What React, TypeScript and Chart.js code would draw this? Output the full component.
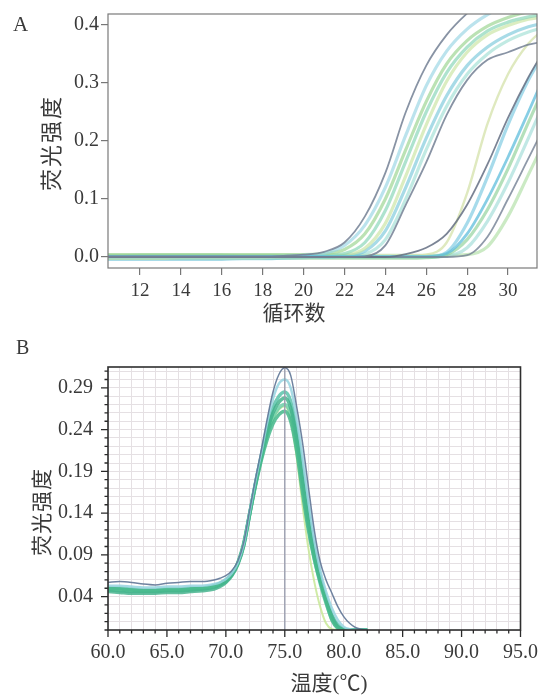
import React, { useEffect, useRef } from "react";
import { Chart, registerables } from "chart.js";

Chart.register(...registerables);

// ---------- Panel A: amplification curves ----------
const cycles = [10, 11, 12, 13, 14, 15, 16, 17, 18, 19, 20, 21, 22, 23, 24, 25, 26, 27, 28, 29, 30, 31, 32];
const ampXTicks = [12, 14, 16, 18, 20, 22, 24, 26, 28, 30];
const ampYTicks = [0, 0.1, 0.2, 0.3, 0.4];

const ampE1 = [0.001, 0.001, 0.001, 0.001, 0.001, 0.001, 0.001, 0.001, 0.001, 0.002, 0.004, 0.009, 0.025, 0.07, 0.145, 0.25, 0.33, 0.383, 0.42, 0.448, 0.468, 0.48, 0.49];
const ampE2 = [0, 0, 0, 0, 0, 0, 0, 0, 0, 0.001, 0.003, 0.006, 0.02, 0.055, 0.12, 0.21, 0.295, 0.355, 0.393, 0.418, 0.435, 0.447, 0.455];
const ampE3 = [0.004, 0.004, 0.004, 0.004, 0.004, 0.004, 0.004, 0.004, 0.004, 0.004, 0.004, 0.006, 0.013, 0.04, 0.1, 0.185, 0.268, 0.333, 0.373, 0.398, 0.413, 0.423, 0.43];
const ampE4 = [0.002, 0.002, 0.003, 0.003, 0.003, 0.003, 0.003, 0.002, 0.002, 0.002, 0.002, 0.003, 0.006, 0.025, 0.08, 0.165, 0.25, 0.318, 0.362, 0.39, 0.405, 0.414, 0.42];
const ampE5 = [-0.002, -0.002, -0.002, -0.002, -0.001, -0.001, -0.001, -0.001, -0.001, 0, 0, 0.001, 0.003, 0.015, 0.058, 0.14, 0.228, 0.303, 0.353, 0.383, 0.399, 0.41, 0.415];
const ampE6 = [-0.004, -0.004, -0.004, -0.004, -0.004, -0.004, -0.004, -0.003, -0.003, -0.002, -0.001, 0, 0.002, 0.01, 0.045, 0.12, 0.205, 0.278, 0.33, 0.362, 0.383, 0.397, 0.405];
const ampE7 = [0, 0, 0, 0, 0, 0, 0, 0, 0, 0, 0, 0, 0.001, 0.005, 0.03, 0.1, 0.185, 0.26, 0.315, 0.35, 0.373, 0.388, 0.398];
const ampE8 = [0, 0, 0, 0, 0, 0, 0, 0, 0, 0, 0, 0, 0, 0.001, 0.02, 0.09, 0.163, 0.245, 0.305, 0.34, 0.353, 0.366, 0.373];
const ampL1 = [0, 0, 0, 0, 0, 0, 0, 0, 0, 0, 0, 0, 0, 0, 0, 0.005, 0.016, 0.04, 0.09, 0.16, 0.24, 0.31, 0.37];
const ampL2 = [0.002, 0.002, 0.002, 0.002, 0.002, 0.002, 0.002, 0.002, 0.002, 0.002, 0.002, 0.002, 0.002, 0.002, 0.002, 0.002, 0.004, 0.025, 0.11, 0.23, 0.315, 0.368, 0.4];
const ampL3 = [0.001, 0.001, 0.001, 0.001, 0.001, 0.001, 0.001, 0.001, 0.001, 0.001, 0.001, 0.001, 0.001, 0.001, 0.001, 0.001, 0.001, 0.006, 0.04, 0.1, 0.172, 0.25, 0.33];
const ampL4 = [-0.002, -0.002, -0.002, -0.002, -0.002, -0.002, -0.002, -0.002, -0.002, -0.002, -0.002, -0.002, -0.002, -0.002, -0.002, -0.002, -0.001, 0.004, 0.03, 0.082, 0.152, 0.232, 0.31];
const ampL5 = [0, 0, 0, 0, 0, 0, 0, 0, 0, 0, 0, 0, 0, 0, 0, 0, 0, 0.002, 0.016, 0.062, 0.128, 0.205, 0.285];
const ampL6 = [0, 0, 0, 0, 0, 0, 0, 0, 0, 0, 0, 0, 0, 0, 0, 0, 0, 0, 0.003, 0.035, 0.1, 0.17, 0.24];
const ampL7 = [0.003, 0.003, 0.003, 0.003, 0.003, 0.003, 0.003, 0.003, 0.003, 0.003, 0.003, 0.003, 0.003, 0.003, 0.003, 0.003, 0.003, 0.003, 0.004, 0.018, 0.07, 0.142, 0.215];
const ampL8 = [0, 0, 0, 0, 0, 0, 0, 0, 0, 0, 0, 0, 0, 0, 0, 0, 0, 0.008, 0.058, 0.138, 0.228, 0.305, 0.365];

const ampSeries = [
  { values: ampE1, color: "rgba(115,128,148,0.85)", width: 1.8 },
  { values: ampE8, color: "rgba(115,128,148,0.85)", width: 1.8 },
  { values: ampL1, color: "rgba(100,110,130,0.85)", width: 1.8 },
  { values: ampL6, color: "rgba(115,128,148,0.8)", width: 1.8 },
  { values: ampL3, color: "rgba(95,190,220,0.75)", width: 2.8 },
  { values: ampE2, color: "rgba(150,212,228,0.65)", width: 3.2 },
  { values: ampE3, color: "rgba(150,210,140,0.65)", width: 3.2 },
  { values: ampE4, color: "rgba(130,212,180,0.65)", width: 3.2 },
  { values: ampE5, color: "rgba(200,228,160,0.65)", width: 3.2 },
  { values: ampE6, color: "rgba(110,195,215,0.6)", width: 3.2 },
  { values: ampE7, color: "rgba(160,222,212,0.65)", width: 3.2 },
  { values: ampL2, color: "rgba(215,228,175,0.8)", width: 2.4 },
  { values: ampL4, color: "rgba(140,208,150,0.65)", width: 3.2 },
  { values: ampL5, color: "rgba(160,220,215,0.65)", width: 3.2 },
  { values: ampL7, color: "rgba(175,222,165,0.65)", width: 3.2 },
  { values: ampL8, color: "rgba(120,200,225,0.65)", width: 3.2 },
];

// ---------- Panel B: melt curves ----------
const meltTemps = [60, 61, 62, 63, 64, 65, 66, 67, 68, 69, 69.5, 70, 70.5, 71, 71.5, 72, 72.5, 73, 73.5, 74, 74.5, 75, 75.5, 76, 76.5, 77, 77.5, 78, 78.5, 79, 79.5, 80, 80.5, 81, 81.5, 82];
const meltXLabels = [60, 65, 70, 75, 80, 85, 90, 95];
const meltYLabels = [0.04, 0.09, 0.14, 0.19, 0.24, 0.29];
const meltPeakTemp = 75.0;

const meltGray = [0.057, 0.058, 0.057, 0.055, 0.054, 0.056, 0.057, 0.058, 0.058, 0.06, 0.062, 0.065, 0.071, 0.082, 0.104, 0.142, 0.18, 0.215, 0.252, 0.285, 0.306, 0.314, 0.305, 0.268, 0.225, 0.172, 0.12, 0.082, 0.06, 0.044, 0.028, 0.016, 0.008, 0.003, 0.001, 0];
const meltCyan = [0.053, 0.053, 0.052, 0.051, 0.051, 0.052, 0.052, 0.053, 0.053, 0.055, 0.057, 0.061, 0.068, 0.08, 0.102, 0.14, 0.178, 0.212, 0.248, 0.277, 0.295, 0.3, 0.29, 0.255, 0.208, 0.155, 0.108, 0.072, 0.046, 0.026, 0.012, 0.004, 0.001, 0, 0, 0];
const meltTeal = [0.05, 0.05, 0.049, 0.048, 0.048, 0.049, 0.049, 0.05, 0.05, 0.052, 0.055, 0.059, 0.066, 0.079, 0.101, 0.138, 0.175, 0.208, 0.24, 0.266, 0.28, 0.285, 0.274, 0.24, 0.193, 0.142, 0.098, 0.064, 0.038, 0.018, 0.006, 0.001, 0, 0, 0, 0];
const meltGreen = [0.05, 0.049, 0.048, 0.047, 0.047, 0.048, 0.048, 0.049, 0.05, 0.053, 0.056, 0.06, 0.067, 0.08, 0.103, 0.138, 0.172, 0.203, 0.228, 0.247, 0.258, 0.262, 0.25, 0.215, 0.165, 0.12, 0.085, 0.058, 0.034, 0.012, 0.002, 0, 0, 0, 0, 0];
const meltMint = [0.048, 0.047, 0.046, 0.046, 0.046, 0.047, 0.047, 0.048, 0.049, 0.051, 0.054, 0.058, 0.066, 0.079, 0.101, 0.137, 0.173, 0.205, 0.233, 0.254, 0.266, 0.27, 0.258, 0.222, 0.172, 0.124, 0.086, 0.056, 0.032, 0.013, 0.003, 0, 0, 0, 0, 0];
const meltLime = [0.049, 0.048, 0.047, 0.047, 0.047, 0.048, 0.048, 0.049, 0.05, 0.052, 0.055, 0.059, 0.066, 0.079, 0.101, 0.137, 0.172, 0.204, 0.232, 0.252, 0.264, 0.268, 0.252, 0.208, 0.15, 0.098, 0.058, 0.028, 0.008, 0.001, 0, 0, 0, 0, 0, 0];
const meltGreen2 = [0.046, 0.045, 0.044, 0.044, 0.044, 0.045, 0.045, 0.046, 0.047, 0.049, 0.052, 0.057, 0.065, 0.078, 0.1, 0.137, 0.174, 0.207, 0.237, 0.26, 0.273, 0.278, 0.266, 0.23, 0.18, 0.13, 0.09, 0.06, 0.036, 0.016, 0.004, 0.001, 0, 0, 0, 0];

const meltSeries = [
  { values: meltGray, color: "rgba(95,118,150,0.9)", width: 1.5 },
  { values: meltCyan, color: "rgba(150,212,225,0.85)", width: 2.5 },
  { values: meltGreen, color: "rgba(70,185,140,0.85)", width: 3.5 },
  { values: meltGreen2, color: "rgba(60,175,135,0.8)", width: 3.5 },
  { values: meltMint, color: "rgba(110,208,170,0.85)", width: 3.5 },
  { values: meltTeal, color: "rgba(90,195,170,0.85)", width: 3.5 },
  { values: meltLime, color: "rgba(200,232,150,0.85)", width: 2 },
];

const serif = "'Liberation Serif', 'Times New Roman', serif";
const cjk = "'Liberation Serif', 'Noto Sans CJK SC', serif";
const textColor = "#3a3a3a";

const framePlugin = {
  id: "frameBox",
  afterDatasetsDraw(chart: any, _args: any, opts: any) {
    const { ctx, chartArea: a } = chart;
    ctx.save();
    ctx.strokeStyle = opts.color;
    ctx.lineWidth = opts.width;
    ctx.strokeRect(a.left, a.top, a.right - a.left, a.bottom - a.top);
    ctx.restore();
  },
};

const near = (list: number[], v: number) => list.some((u) => Math.abs(u - v) < 1e-6);

const meltTickPlugin = {
  id: "meltTicks",
  afterDraw(chart: any) {
    const { ctx, chartArea: a, scales } = chart;
    const xs = scales.x;
    const ys = scales.y;
    ctx.save();
    ctx.strokeStyle = "#2b2b2b";
    ctx.lineWidth = 1.3;
    ctx.beginPath();
    xs.ticks.forEach((t: any) => {
      const px = xs.getPixelForValue(t.value);
      const len = near(meltXLabels, t.value) ? 7 : 3.5;
      ctx.moveTo(px, a.bottom);
      ctx.lineTo(px, a.bottom + len);
    });
    ys.ticks.forEach((t: any) => {
      const py = ys.getPixelForValue(t.value);
      const len = near(meltYLabels, t.value) ? 7 : 3.5;
      ctx.moveTo(a.left, py);
      ctx.lineTo(a.left - len, py);
    });
    ctx.stroke();
    ctx.restore();
  },
};

export default function App() {
  const refA = useRef<HTMLCanvasElement | null>(null);
  const refB = useRef<HTMLCanvasElement | null>(null);

  useEffect(() => {
    if (!refA.current || !refB.current) return;

    const chartA = new Chart(refA.current, {
      type: "line",
      data: {
        datasets: ampSeries.map((s) => ({
          data: cycles.map((c, i) => ({ x: c, y: s.values[i] })),
          borderColor: s.color,
          borderWidth: s.width,
          pointRadius: 0,
          cubicInterpolationMode: "monotone" as const,
          fill: false,
        })),
      },
      options: {
        responsive: false,
        animation: false,
        layout: { padding: { left: 0, right: 12, top: 13, bottom: 0 } },
        plugins: {
          legend: { display: false },
          tooltip: { enabled: false },
          frameBox: { color: "#7a7a7a", width: 1.2 },
        } as any,
        scales: {
          x: {
            type: "linear",
            min: 10.43,
            max: 31.42,
            afterBuildTicks: (s: any) => {
              s.ticks = ampXTicks.map((v) => ({ value: v }));
            },
            afterFit: (s: any) => {
              s.height = 72;
            },
            ticks: {
              autoSkip: false,
              maxRotation: 0,
              padding: 5,
              color: textColor,
              font: { family: serif, size: 19 },
              callback: (v: any) => String(v),
            },
            grid: { drawOnChartArea: false, drawTicks: true, tickLength: 7, color: "#777", lineWidth: 1.2 },
            border: { display: false },
          },
          y: {
            type: "linear",
            min: -0.019,
            max: 0.419,
            afterBuildTicks: (s: any) => {
              s.ticks = ampYTicks.map((v) => ({ value: v }));
            },
            afterFit: (s: any) => {
              s.width = 108;
            },
            ticks: {
              autoSkip: false,
              padding: 2,
              color: textColor,
              font: { family: serif, size: 20 },
              callback: (v: any) => Number(v).toFixed(1),
            },
            grid: { drawOnChartArea: false, drawTicks: true, tickLength: 7, color: "#777", lineWidth: 1.2 },
            border: { display: false },
          },
        },
      } as any,
      plugins: [framePlugin],
    });

    const chartB = new Chart(refB.current, {
      type: "line",
      data: {
        datasets: [
          {
            data: [
              { x: meltPeakTemp, y: 0 },
              { x: meltPeakTemp, y: 0.315 },
            ],
            borderColor: "rgba(150,155,172,0.9)",
            borderWidth: 1.5,
            pointRadius: 0,
            fill: false,
          },
          ...meltSeries.map((s) => ({
            data: meltTemps.map((t, i) => ({ x: t, y: s.values[i] })),
            borderColor: s.color,
            borderWidth: s.width,
            pointRadius: 0,
            cubicInterpolationMode: "monotone" as const,
            fill: false,
          })),
        ],
      },
      options: {
        responsive: false,
        animation: false,
        layout: { padding: { left: 0, right: 24, top: 14, bottom: 0 } },
        plugins: {
          legend: { display: false },
          tooltip: { enabled: false },
          frameBox: { color: "#2f2f2f", width: 1.6 },
        } as any,
        scales: {
          x: {
            type: "linear",
            min: 60,
            max: 95,
            afterBuildTicks: (s: any) => {
              const t: any[] = [];
              for (let v = 60; v <= 95; v += 1) t.push({ value: v });
              s.ticks = t;
            },
            afterFit: (s: any) => {
              s.height = 65;
            },
            ticks: {
              autoSkip: false,
              maxRotation: 0,
              padding: 11,
              color: textColor,
              font: { family: serif, size: 20 },
              callback: (v: any) => (near(meltXLabels, Number(v)) ? Number(v).toFixed(1) : ""),
            },
            grid: { drawOnChartArea: true, drawTicks: false, color: "#e5e0e3", lineWidth: 1 },
            border: { display: false },
          },
          y: {
            type: "linear",
            min: 0,
            max: 0.315,
            afterBuildTicks: (s: any) => {
              const t: any[] = [];
              for (let i = 0; i <= 31; i++) t.push({ value: i / 100 });
              s.ticks = t;
            },
            afterFit: (s: any) => {
              s.width = 108;
            },
            ticks: {
              autoSkip: false,
              padding: 15,
              color: textColor,
              font: { family: serif, size: 20 },
              callback: (v: any) => (near(meltYLabels, Number(v)) ? Number(v).toFixed(2) : ""),
            },
            grid: { drawOnChartArea: true, drawTicks: false, color: "#e5e0e3", lineWidth: 1 },
            border: { display: false },
          },
        },
      } as any,
      plugins: [framePlugin, meltTickPlugin],
    });

    return () => {
      chartA.destroy();
      chartB.destroy();
    };
  }, []);

  const abs: React.CSSProperties = { position: "absolute", whiteSpace: "nowrap", color: textColor };
  const centered = (x: number, y: number, size: number, rotate = false): React.CSSProperties => ({
    ...abs,
    left: x,
    top: y,
    fontFamily: cjk,
    fontSize: size,
    lineHeight: 1,
    transform: `translate(-50%, -50%)${rotate ? " rotate(-90deg)" : ""}`,
  });

  return (
    <div style={{ position: "absolute", left: 0, top: 0, width: 549, height: 695, background: "#fff", overflow: "hidden" }}>
      <canvas ref={refA} width={549} height={340} style={{ position: "absolute", left: 0, top: 0 }} />
      <canvas ref={refB} width={549} height={355} style={{ position: "absolute", left: 0, top: 340 }} />
      <div style={{ ...abs, left: 13, top: 14, fontFamily: serif, fontSize: 21, lineHeight: 1 }}>A</div>
      <div style={{ ...abs, left: 16, top: 337, fontFamily: serif, fontSize: 20, lineHeight: 1 }}>B</div>
      <div style={{ ...centered(52, 143, 22, true), letterSpacing: 2 }}>荧光强度</div>
      <div style={centered(294, 313, 21)}>循环数</div>
      <div style={{ ...centered(42, 512, 21, true), letterSpacing: 1 }}>荧光强度</div>
      <div style={centered(329, 683, 21)}>温度(℃)</div>
    </div>
  );
}
